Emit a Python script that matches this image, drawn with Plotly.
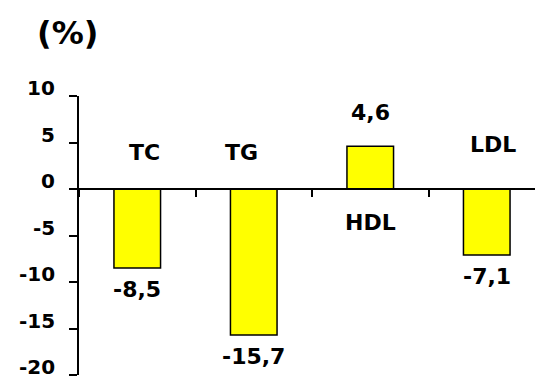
import plotly.graph_objects as go

# Lipid changes (%)
categories = ["TC", "TG", "HDL", "LDL"]
values = [-8.5, -15.7, 4.6, -7.1]
value_labels = ["-8,5", "-15,7", "4,6", "-7,1"]
y_ticks = [-20, -15, -10, -5, 0, 5, 10]

FONT = "DejaVu Sans"
W, H = 535, 379
L, R, T, B = 79, 0, 96, 4
plot_w = W - L - R
cat_px = 116.5  # pixel width of one category slot

fig = go.Figure(
    go.Bar(
        x=categories,
        y=values,
        marker=dict(color="#FFFF00", line=dict(color="black", width=1.5)),
        width=0.4,
        hoverinfo="skip",
    )
)

annotations = []
# value labels just beyond each bar end
for cat, v, lab in zip(categories, values, value_labels):
    annotations.append(dict(
        x=cat, y=v, text="<b>%s</b>" % lab, showarrow=False,
        yanchor="middle", xanchor="center",
        yshift=34 if v > 0 else -21,
        font=dict(family=FONT, size=22, color="black"),
    ))

# category names placed beside the bars
name_pos = {"TC": (3.9, 7), "TG": (3.9, -12), "HDL": (-3.6, 0), "LDL": (4.8, 6)}
for cat in categories:
    yv, xs = name_pos[cat]
    annotations.append(dict(
        x=cat, y=yv, xshift=xs, text="<b>%s</b>" % cat, showarrow=False,
        yanchor="middle", xanchor="center",
        font=dict(family=FONT, size=22, color="black"),
    ))

# y tick labels, sitting slightly above their tick marks
for t in y_ticks:
    annotations.append(dict(
        x=0, xref="paper", y=t, yref="y", text="<b>%d</b>" % t,
        showarrow=False, xanchor="right", yanchor="middle",
        xshift=-22, yshift=8,
        font=dict(family=FONT, size=20, color="black"),
    ))

# unit label
annotations.append(dict(
    x=(67 - L) / plot_w, y=1 + (T - 33) / (H - T - B), xref="paper", yref="paper",
    text="<b>(%)</b>", showarrow=False, xanchor="center", yanchor="middle",
    font=dict(family=FONT, size=32, color="black"),
))

fig.update_layout(
    width=W, height=H,
    margin=dict(l=L, r=R, t=T, b=B),
    paper_bgcolor="white", plot_bgcolor="white",
    showlegend=False,
    annotations=annotations,
    xaxis=dict(
        type="category",
        range=[-0.5, -0.5 + plot_w / cat_px],
        showticklabels=False,
        tickson="boundaries",
        ticks="outside", ticklen=7, tickwidth=2, tickcolor="black",
        showline=True, linecolor="black", linewidth=2,
        showgrid=False, zeroline=False,
        anchor="free", position=2 / 3,
    ),
    yaxis=dict(
        range=[-20, 10],
        tickvals=y_ticks,
        showticklabels=False,
        ticks="outside", ticklen=8, tickwidth=2, tickcolor="black",
        showline=True, linecolor="black", linewidth=2,
        showgrid=False, zeroline=False,
    ),
)

fig.write_html("out.html")
